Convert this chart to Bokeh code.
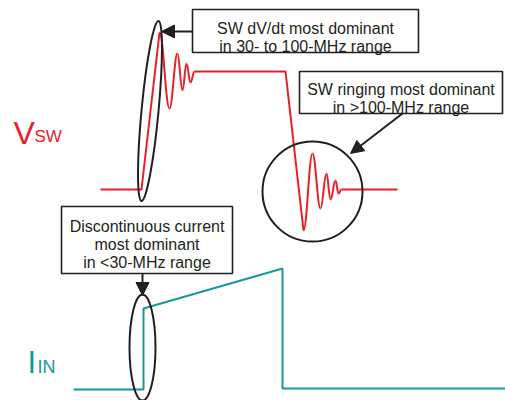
from bokeh.plotting import figure
from bokeh.models import Range1d, Arrow, NormalHead
from bokeh.core.properties import value
from bokeh.embed import file_html
from bokeh.resources import INLINE

RED = "#e8202a"
TEAL = "#16989a"
INK = "#231f20"
FONT = "Liberation Sans"

# V_SW waveform (straight parts) and ringing extrema
vsw_rise_x = [100, 141, 159]
vsw_rise_y = [189, 189, 32]
vsw_flat_x = [194, 285, 303]
vsw_flat_y = [71, 71, 230]
vsw_tail_x = [341, 397]
vsw_tail_y = [189, 189]
ring1_x = [159, 169, 177, 182, 186, 190, 194]
ring1_y = [32, 108, 53, 90, 63, 82, 71]
ring2_x = [303, 312, 320, 326, 330, 335, 338, 341]
ring2_y = [230, 153, 208, 173, 199, 180, 193, 189]

# I_IN waveform
iin_x = [73, 143, 143, 282, 282, 505]
iin_y = [389, 389, 308, 268, 388, 388]

# highlight ellipses: x, y, width, height, angle
ell_x = [149.5, 312, 142]
ell_y = [110.5, 191, 347]
ell_w = [17, 100, 26]
ell_h = [181, 100, 106]
ell_a = [-0.094, 0.0, 0.0]

# callout boxes
box_left = [192, 299, 61]
box_right = [418, 502, 232]
box_top = [9, 71, 206]
box_bottom = [52, 113, 273]
box_cx = [305, 400.5, 146.5]
box_lines = [
    ["SW dV/dt most dominant", "in 30- to 100-MHz range"],
    ["SW ringing most dominant", "in >100-MHz range"],
    ["Discontinuous current", "most dominant", "in <30-MHz range"],
]
box_base = [[28, 46], [89, 107], [226, 244, 262]]

# arrows: start -> end
arr_x0 = [192, 402, 142]
arr_y0 = [31, 113, 273]
arr_x1 = [161, 350, 142]
arr_y1 = [31, 153, 295]

p = figure(width=505, height=400, x_range=Range1d(0, 505), y_range=Range1d(400, 0),
           output_backend="svg", toolbar_location=None, min_border=0,
           x_axis_location=None, y_axis_location=None, outline_line_color=None,
           background_fill_color="white", border_fill_color="white")
p.xgrid.visible = False
p.ygrid.visible = False

def ring_bezier(xs, ys, color):
    x0, y0, x1, y1, cx0, cy0, cx1, cy1 = [], [], [], [], [], [], [], []
    for i in range(len(xs) - 1):
        dx = xs[i + 1] - xs[i]
        x0.append(xs[i]); y0.append(ys[i])
        x1.append(xs[i + 1]); y1.append(ys[i + 1])
        cx0.append(xs[i] + 0.4 * dx); cy0.append(ys[i])
        cx1.append(xs[i + 1] - 0.4 * dx); cy1.append(ys[i + 1])
    p.bezier(x0=x0, y0=y0, x1=x1, y1=y1, cx0=cx0, cy0=cy0, cx1=cx1, cy1=cy1,
             line_color=color, line_width=2)

for xs, ys in [(vsw_rise_x, vsw_rise_y), (vsw_flat_x, vsw_flat_y), (vsw_tail_x, vsw_tail_y)]:
    p.line(xs, ys, line_color=RED, line_width=2, line_join="round")
ring_bezier(ring1_x, ring1_y, RED)
ring_bezier(ring2_x, ring2_y, RED)

p.line(iin_x, iin_y, line_color=TEAL, line_width=2)

p.ellipse(x=ell_x, y=ell_y, width=ell_w, height=ell_h, angle=ell_a,
          fill_color=None, line_color=INK, line_width=2)

p.quad(left=box_left, right=box_right, top=box_top, bottom=box_bottom,
       fill_color="white", line_color=INK, line_width=1.6)

tx, ty, tt = [], [], []
for cx, lines, bases in zip(box_cx, box_lines, box_base):
    for ln, b in zip(lines, bases):
        tx.append(cx); ty.append(b); tt.append(ln)
p.text(x=tx, y=ty, text=tt, text_align="center", text_baseline="alphabetic",
       text_font=value(FONT), text_font_size="16px", text_color=INK)

for x0, y0, x1, y1 in zip(arr_x0, arr_y0, arr_x1, arr_y1):
    p.add_layout(Arrow(end=NormalHead(size=13, fill_color=INK, line_color=INK, line_width=1),
                       x_start=x0, y_start=y0, x_end=x1, y_end=y1,
                       line_color=INK, line_width=2))

# signal labels
p.text(x=[13], y=[132], text=["V"], text_font=value(FONT), text_font_size="32px",
       text_color=RED, text_baseline="alphabetic")
p.text(x=[34], y=[136], text=["SW"], text_font=value(FONT), text_font_size="17px",
       text_color=RED, text_baseline="alphabetic")
p.text(x=[27], y=[362], text=["I"], text_font=value(FONT), text_font_size="31px",
       text_color=TEAL, text_baseline="alphabetic")
p.text(x=[37], y=[366], text=["IN"], text_font=value(FONT), text_font_size="18px",
       text_color=TEAL, text_baseline="alphabetic")

open("out.html", "w").write(file_html(p, INLINE))
